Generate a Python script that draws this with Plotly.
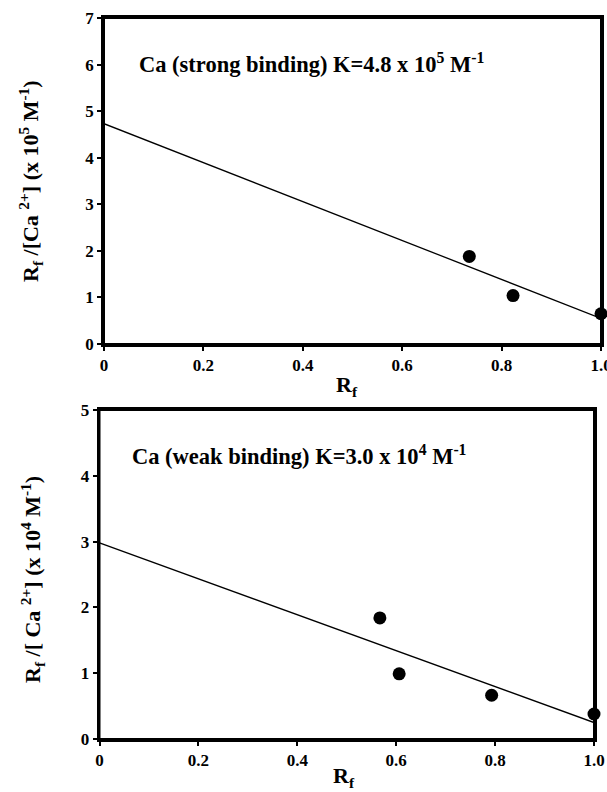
import plotly.graph_objects as go

# Top panel: strong binding
top_x = [0.735, 0.823, 1.0]
top_y = [1.88, 1.04, 0.65]
top_fit_x = [0.0, 1.0]
top_fit_y = [4.73, 0.55]

# Bottom panel: weak binding
bot_x = [0.567, 0.606, 0.793, 1.0]
bot_y = [1.84, 0.99, 0.665, 0.38]
bot_fit_x = [0.0, 1.0]
bot_fit_y = [2.98, 0.25]

x_ticks = [0, 0.2, 0.4, 0.6, 0.8, 1.0]
x_ticktext = ["0", "0.2", "0.4", "0.6", "0.8", "1.0"]
top_y_ticks = [0, 1, 2, 3, 4, 5, 6, 7]
bot_y_ticks = [0, 1, 2, 3, 4, 5]

FONT = "Liberation Serif"
tickfont = dict(family=FONT, size=17, color="black", weight="bold")
titlefont = dict(family=FONT, size=22, color="black", weight="bold")

W, H = 607, 792

fig = go.Figure()

fig.add_trace(go.Scatter(x=top_fit_x, y=top_fit_y, mode="lines",
                         line=dict(color="black", width=1.3),
                         xaxis="x", yaxis="y", showlegend=False, cliponaxis=False))
fig.add_trace(go.Scatter(x=top_x, y=top_y, mode="markers",
                         marker=dict(color="black", size=13),
                         xaxis="x", yaxis="y", showlegend=False, cliponaxis=False))
fig.add_trace(go.Scatter(x=bot_fit_x, y=bot_fit_y, mode="lines",
                         line=dict(color="black", width=1.3),
                         xaxis="x2", yaxis="y2", showlegend=False, cliponaxis=False))
fig.add_trace(go.Scatter(x=bot_x, y=bot_y, mode="markers",
                         marker=dict(color="black", size=13),
                         xaxis="x2", yaxis="y2", showlegend=False, cliponaxis=False))

axis_common = dict(showgrid=False, zeroline=False, showline=True, linecolor="black",
                   linewidth=2.5, mirror=True, ticks="outside", ticklen=4, tickwidth=2,
                   tickcolor="black", tickfont=tickfont, automargin=False,
                   ticklabeloverflow="allow")

top_xdom = [104 / W, 601 / W]
top_ydom = [1 - 344 / H, 1 - 18 / H]
bot_xdom = [99.5 / W, 594 / W]
bot_ydom = [1 - 739 / H, 1 - 410 / H]

frame_shapes = []
for xd, yd in ((top_xdom, top_ydom), (bot_xdom, bot_ydom)):
    frame_shapes.append(dict(type="rect", xref="paper", yref="paper",
                             x0=xd[0], x1=xd[1], y0=yd[0], y1=yd[1],
                             line=dict(color="black", width=2),
                             fillcolor="rgba(0,0,0,0)", layer="above"))

fig.update_layout(
    width=W, height=H,
    margin=dict(l=0, r=0, t=0, b=0),
    paper_bgcolor="white", plot_bgcolor="white",
    xaxis=dict(domain=top_xdom, anchor="y", range=[0, 1.0],
               tickvals=x_ticks, ticktext=x_ticktext, **axis_common),
    yaxis=dict(domain=top_ydom, anchor="x", range=[0, 7],
               tickvals=top_y_ticks, ticklabelstandoff=0, **axis_common),
    xaxis2=dict(domain=bot_xdom, anchor="y2", range=[0, 1.0],
                tickvals=x_ticks, ticktext=x_ticktext, **axis_common),
    yaxis2=dict(domain=bot_ydom, anchor="x2", range=[0, 5],
                tickvals=bot_y_ticks, ticklabelstandoff=0, **axis_common),
    shapes=frame_shapes,
    annotations=[
        dict(text="Ca (strong binding) K=4.8 x 10<sup>5</sup> M<sup>-1</sup>",
             x=0.066, y=6.03, xref="x", yref="y", xanchor="left", yanchor="middle",
             showarrow=False, font=dict(family=FONT, size=22.5, color="black", weight="bold")),
        dict(text="Ca (weak binding) K=3.0 x 10<sup>4</sup> M<sup>-1</sup>",
             x=0.062, y=4.31, xref="x2", yref="y2", xanchor="left", yanchor="middle",
             showarrow=False, font=dict(family=FONT, size=22.5, color="black", weight="bold")),
        dict(text="R<sub>f</sub> /[Ca <sup>2+</sup>] (x 10<sup>5</sup> M<sup>-1</sup>)",
             x=30 / W, y=1 - 181 / H, xref="paper", yref="paper",
             xanchor="center", yanchor="middle", textangle=-90, showarrow=False,
             font=titlefont),
        dict(text="R<sub>f</sub> /[ Ca <sup>2+</sup>] (x 10<sup>4</sup> M<sup>-1</sup>)",
             x=32 / W, y=1 - 580 / H, xref="paper", yref="paper",
             xanchor="center", yanchor="middle", textangle=-90, showarrow=False,
             font=titlefont),
        dict(text="R<sub>f</sub>", x=347 / W, y=1 - 386 / H, xref="paper", yref="paper",
             xanchor="center", yanchor="middle", showarrow=False, font=titlefont),
        dict(text="R<sub>f</sub>", x=344 / W, y=1 - 777 / H, xref="paper", yref="paper",
             xanchor="center", yanchor="middle", showarrow=False, font=titlefont),
    ],
)

fig.write_html("out.html")
